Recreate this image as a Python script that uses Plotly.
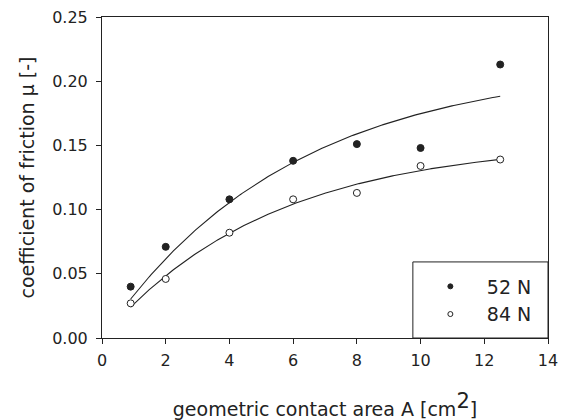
import numpy as np
import plotly.graph_objects as go

# Contact area A [cm^2]
area = [0.9, 2, 4, 6, 8, 10, 12.5]
# Coefficient of friction for the two normal loads
mu_52N = [0.040, 0.071, 0.108, 0.138, 0.151, 0.148, 0.213]
mu_84N = [0.027, 0.046, 0.082, 0.108, 0.113, 0.134, 0.139]
series_names = ["52 N", "84 N"]

x_ticks = [0, 2, 4, 6, 8, 10, 12, 14]
y_ticks = [0.00, 0.05, 0.10, 0.15, 0.20, 0.25]


def fit_rise_to_max(x, y):
    """Least-squares fit of y = a * (1 - exp(-b x))."""
    x = np.asarray(x, float)
    y = np.asarray(y, float)
    best = None
    for b in np.linspace(0.01, 2.0, 4000):
        f = 1.0 - np.exp(-b * x)
        a = float(f @ y / (f @ f))
        sse = float(((a * f - y) ** 2).sum())
        if best is None or sse < best[0]:
            best = (sse, a, b)
    return best[1], best[2]


xs = np.linspace(min(area), max(area), 200)
ink = "#222222"
font = "DejaVu Sans"

fig = go.Figure()
for ys, name, filled in [(mu_52N, series_names[0], True), (mu_84N, series_names[1], False)]:
    a, b = fit_rise_to_max(area, ys)
    fig.add_trace(go.Scatter(
        x=xs, y=a * (1 - np.exp(-b * xs)), mode="lines",
        line=dict(color=ink, width=1.1), showlegend=False, hoverinfo="skip"))
    fig.add_trace(go.Scatter(
        x=area, y=ys, mode="markers", showlegend=False,
        marker=dict(size=7, color=ink if filled else "white",
                    line=dict(color=ink, width=1))))
    # legend entry with a smaller symbol
    fig.add_trace(go.Scatter(
        x=[None], y=[None], mode="markers", name=name,
        marker=dict(size=5, color=ink if filled else "white",
                    line=dict(color=ink, width=1))))

axis_common = dict(
    showline=True, linecolor=ink, linewidth=1, mirror=True,
    ticks="outside", ticklen=5, tickcolor=ink, tickwidth=1,
    showgrid=False, zeroline=False, automargin=False,
    tickfont=dict(family=font, size=16, color=ink),
)

fig.update_xaxes(
    range=[0, 14], tickvals=x_ticks, ticklabelstandoff=3,
    title=dict(text='geometric contact area A [cm<sup><span style="font-size:21px">2</span></sup>]',
               font=dict(family=font, size=19, color=ink), standoff=36),
    **axis_common)
fig.update_yaxes(
    range=[0, 0.25], tickvals=y_ticks, tickformat=".2f", ticklabelstandoff=5,
    title=dict(text="coefficient of friction \u03bc [-]",
               font=dict(family=font, size=19, color=ink), standoff=12),
    **axis_common)

# frame around the legend, anchored to the lower right corner of the plot
fig.add_shape(type="rect", xref="paper", yref="paper",
              x0=0.697, x1=1.0, y0=0.0, y1=0.237,
              line=dict(color=ink, width=1), fillcolor="white", layer="above")

fig.update_layout(
    width=565, height=420,
    margin=dict(l=102, r=17, t=17, b=82),
    plot_bgcolor="white", paper_bgcolor="white",
    legend=dict(
        x=0.697, y=0.014, xanchor="left", yanchor="bottom",
        borderwidth=0, bgcolor="rgba(0,0,0,0)",
        font=dict(family=font, size=19, color=ink),
        indentation=1, itemwidth=63,
    ),
)

fig.write_html("out.html")
